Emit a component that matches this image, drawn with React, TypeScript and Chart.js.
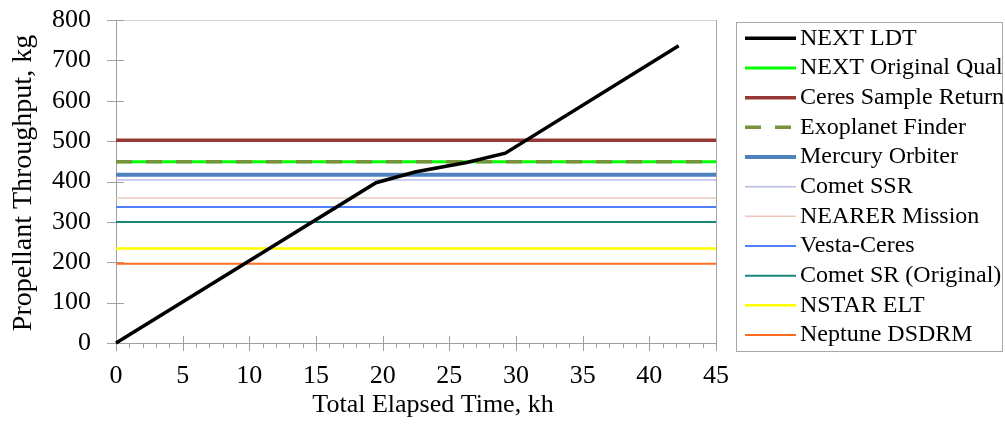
import { useEffect, useRef } from 'react';
import { Chart, registerables } from 'chart.js';
Chart.register(...registerables);

// ---- data ----
const ldtName = 'NEXT LDT';
const ldtTime = [0, 19.5, 22.5, 26.3, 29.2, 42.2];
const ldtThroughput = [0, 397, 424, 447, 470, 736];

const refNames = [
  'NEXT Original Qual',
  'Ceres Sample Return',
  'Exoplanet Finder',
  'Mercury Orbiter',
  'Comet SSR',
  'NEARER Mission',
  'Vesta-Ceres',
  'Comet SR (Original)',
  'NSTAR ELT',
  'Neptune DSDRM',
];
const refValues = [449, 502, 449, 417, 404, 359, 337, 300, 234, 196];
const timeRange = [0, 45];
const yRange = [0, 800];
const xTitle = 'Total Elapsed Time, kh';
const yTitle = 'Propellant Throughput, kg';

// ---- styles ----
const refColors = ['#00FF00', '#953735', '#77933C', '#4F81BD', '#B9BDE6', '#EDC8BA', '#4F7FFA', '#1A8578', '#FFFF00', '#FF6F1E'];
const refWidths = [3, 3.5, 3.5, 4, 1.5, 1.5, 2, 2, 2.5, 2];
const refDash: number[][] = [[], [], [16, 14], [], [], [], [], [], [], []];
const FONT = "'Liberation Serif', 'Times New Roman', serif";

const framePlugin = {
  id: 'frame',
  beforeDatasetsDraw(chart: any) {
    const { ctx, chartArea: a, scales } = chart;
    const x = scales.x, y = scales.y;
    ctx.save();
    ctx.lineWidth = 1;
    ctx.strokeStyle = '#D4D4D4';
    ctx.beginPath();
    ctx.moveTo(a.left, Math.round(a.top) + 0.5);
    ctx.lineTo(a.right, Math.round(a.top) + 0.5);
    ctx.stroke();
    ctx.strokeStyle = '#A8A8A8';
    ctx.beginPath();
    ctx.moveTo(Math.round(a.right) + 0.5, a.top);
    ctx.lineTo(Math.round(a.right) + 0.5, a.bottom);
    ctx.stroke();
    ctx.strokeStyle = '#A0A0A0';
    ctx.beginPath();
    ctx.moveTo(Math.round(a.left) + 0.5, a.top);
    ctx.lineTo(Math.round(a.left) + 0.5, a.bottom);
    ctx.moveTo(a.left, Math.round(a.bottom) + 0.5);
    ctx.lineTo(a.right, Math.round(a.bottom) + 0.5);
    ctx.stroke();
    ctx.beginPath();
    for (let v = yRange[0]; v <= yRange[1]; v += 100) {
      const py = Math.round(y.getPixelForValue(v)) + 0.5;
      ctx.moveTo(a.left - 9, py);
      ctx.lineTo(a.left + 8, py);
    }
    for (let v = timeRange[0]; v <= timeRange[1]; v += 1) {
      const px = Math.round(x.getPixelForValue(v)) + 0.5;
      if (v % 5 === 0) {
        ctx.moveTo(px, a.bottom - 7);
        ctx.lineTo(px, a.bottom + 8);
      } else {
        ctx.moveTo(px, a.bottom);
        ctx.lineTo(px, a.bottom + 5);
      }
    }
    ctx.stroke();
    ctx.restore();
  },
  afterDraw(chart: any) {
    const { ctx } = chart;
    ctx.save();
    ctx.fillStyle = '#000';
    ctx.textBaseline = 'middle';
    ctx.textAlign = 'center';
    ctx.font = `26px ${FONT}`;
    ctx.fillText(xTitle, 433, 405.5);
    ctx.translate(24, 183);
    ctx.rotate(-Math.PI / 2);
    ctx.font = `28px ${FONT}`;
    ctx.fillText(yTitle, 0, 0);
    ctx.restore();
  },
};

const legendPlugin = {
  id: 'customLegend',
  afterDraw(chart: any) {
    const { ctx } = chart;
    const names = [ldtName, ...refNames];
    const colors = ['#000000', ...refColors];
    const widths = [3.5, ...refWidths];
    const dashes = [[], ...refDash];
    ctx.save();
    ctx.strokeStyle = '#A8A8A8';
    ctx.lineWidth = 1;
    ctx.strokeRect(736.5, 22.5, 266, 329);
    ctx.font = `24px ${FONT}`;
    ctx.textBaseline = 'middle';
    ctx.textAlign = 'left';
    names.forEach((n, i) => {
      const yy = 38.3 + i * 29.67;
      ctx.strokeStyle = colors[i];
      ctx.lineWidth = widths[i];
      ctx.setLineDash(dashes[i]);
      ctx.beginPath();
      ctx.moveTo(745, yy);
      ctx.lineTo(796, yy);
      ctx.stroke();
      ctx.setLineDash([]);
      ctx.fillStyle = '#000000';
      ctx.fillText(n, 800, yy);
    });
    ctx.restore();
  },
};

export default function App() {
  const ref = useRef<HTMLCanvasElement>(null);
  useEffect(() => {
    document.body.style.margin = '0';
    const datasets: any[] = [
      {
        label: ldtName,
        data: ldtTime.map((t, i) => ({ x: t, y: ldtThroughput[i] })),
        borderColor: '#000000',
        borderWidth: 3.5,
        pointRadius: 0,
        order: 0,
        clip: false,
      },
      ...refNames.map((n, i) => ({
        label: n,
        data: [
          { x: timeRange[0], y: refValues[i] },
          { x: timeRange[1], y: refValues[i] },
        ],
        borderColor: refColors[i],
        borderWidth: refWidths[i],
        borderDash: refDash[i],
        pointRadius: 0,
        order: n === 'Exoplanet Finder' ? 1 : 2,
      })),
    ];
    const chart = new Chart(ref.current!, {
      type: 'line',
      data: { datasets },
      options: {
        animation: false,
        responsive: false,
        layout: { autoPadding: false, padding: { left: 0, top: 20, right: 289, bottom: 0 } },
        plugins: { legend: { display: false }, title: { display: false }, tooltip: { enabled: false } },
        scales: {
          x: {
            type: 'linear',
            min: timeRange[0],
            max: timeRange[1],
            afterFit: (s: any) => { s.height = 86; s.paddingLeft = 0; s.paddingRight = 0; },
            grid: { display: false, drawTicks: false },
            border: { display: false },
            ticks: { stepSize: 5, padding: 18, color: '#000', font: { family: FONT, size: 26 }, maxRotation: 0 },
            title: { display: false, text: xTitle },
          },
          y: {
            type: 'linear',
            min: yRange[0],
            max: yRange[1],
            afterFit: (s: any) => { s.width = 116; s.paddingTop = 0; s.paddingBottom = 0; },
            grid: { display: false, drawTicks: false },
            border: { display: false },
            ticks: { stepSize: 100, padding: 25, color: '#000', font: { family: FONT, size: 26 } },
            title: { display: false, text: yTitle },
          },
        },
      },
      plugins: [framePlugin, legendPlugin],
    });
    return () => chart.destroy();
  }, []);
  return <canvas ref={ref} width={1005} height={429} style={{ display: 'block' }} />;
}
